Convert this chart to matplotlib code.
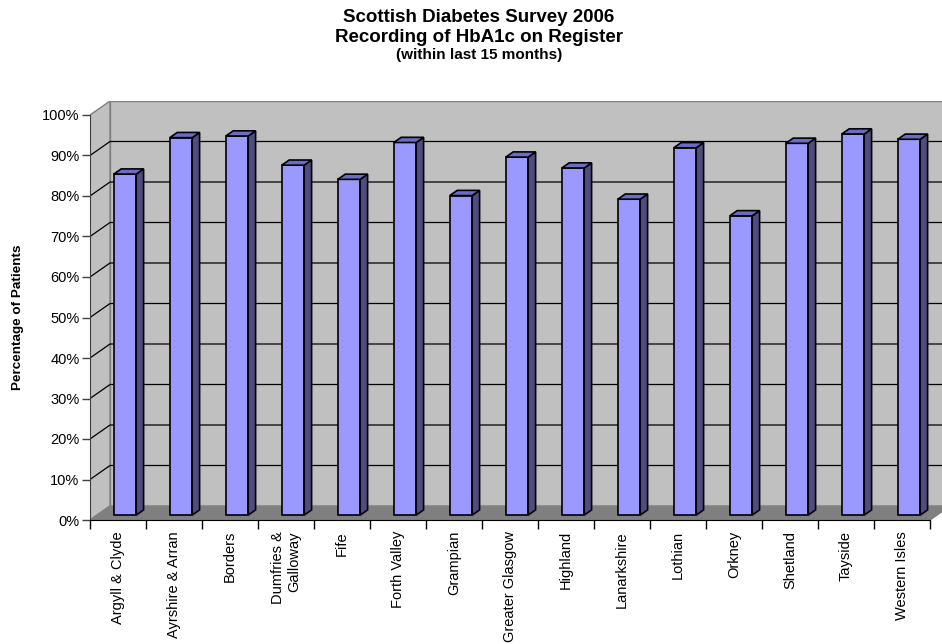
import matplotlib
matplotlib.use("Agg")
import matplotlib.pyplot as plt
from matplotlib.patches import Polygon
import numpy as np

plt.rcParams['font.family'] = ['Liberation Sans', 'DejaVu Sans']

# ---- data ----
boards = ["Argyll & Clyde", "Ayrshire & Arran", "Borders", "Dumfries &\nGalloway",
          "Fife", "Forth Valley", "Grampian", "Greater Glasgow", "Highland",
          "Lanarkshire", "Lothian", "Orkney", "Shetland", "Tayside", "Western Isles"]
pct_recorded = [84.2, 93.2, 93.6, 86.4, 82.9, 92.0, 78.9, 88.4, 85.7,
                78.0, 90.7, 73.9, 91.8, 94.1, 92.8]
y_ticks = [0, 10, 20, 30, 40, 50, 60, 70, 80, 90, 100]
y_tick_labels = [f"{v}%" for v in y_ticks]

title1 = "Scottish Diabetes Survey 2006"
title2 = "Recording of HbA1c on Register"
title3 = "(within last 15 months)"
ylabel = "Percentage of Patients"

# ---- styling / 3D projection parameters ----
W, H = 942, 644
depth_dx = 20 / 56.0        # category units
depth_dy = 14 / 4.05        # percent units
bar_w = 0.40
bar_f0 = 0.35               # depth fraction where bar front sits
bar_depth = 0.37            # bar depth fraction
front_col = "#9999FF"
side_col = "#4D4D80"
top_col = "#6B6BC8"
wall_col = "#C0C0C0"
floor_col = "#808080"
edge_gray = "#808080"

fig = plt.figure(figsize=(W / 100, H / 100), dpi=100)
ax = fig.add_axes([90 / W, (H - 520) / H, (W - 90) / W, 419 / H])
n = len(boards)
x0 = -0.5
x1 = n - 0.5
ax.set_xlim(x0, x0 + (W - 90) / 56.0)
ax.set_ylim(0, 100 + depth_dy)
ax.patch.set_visible(False)

# walls
xr = ax.get_xlim()[1] + 1
back = Polygon([(x0 + depth_dx, depth_dy), (xr, depth_dy), (xr, 100 + depth_dy),
                (x0 + depth_dx, 100 + depth_dy)], closed=True,
               facecolor=wall_col, edgecolor=edge_gray, lw=1.0, zorder=0.5)
ax.add_patch(back)
left = Polygon([(x0, 0), (x0 + depth_dx, depth_dy), (x0 + depth_dx, 100 + depth_dy),
                (x0, 100)], closed=True, facecolor=wall_col, edgecolor=edge_gray,
               lw=1.0, zorder=0.5)
ax.add_patch(left)

# gridlines
for v in y_ticks[1:-1]:
    ax.plot([x0, x0 + depth_dx, xr], [v, v + depth_dy, v + depth_dy],
            color="black", lw=0.9, zorder=0.6, solid_capstyle="butt")

# floor
floor = Polygon([(x0, 0), (x1, 0), (x1 + depth_dx, depth_dy), (x0 + depth_dx, depth_dy)],
                closed=True, facecolor=floor_col, edgecolor=edge_gray, lw=1.0, zorder=0.7)
ax.add_patch(floor)

# bars
ox = bar_f0 * depth_dx
oy = bar_f0 * depth_dy
ddx = bar_depth * depth_dx
ddy = bar_depth * depth_dy
xpos = np.arange(n)
bars = ax.bar(xpos + ox, pct_recorded, bottom=oy, width=bar_w, color=front_col,
              edgecolor="black", linewidth=1.2, zorder=2)
for b in bars:
    bx = b.get_x()
    bw = b.get_width()
    by = b.get_y()
    top = by + b.get_height()
    side = Polygon([(bx + bw, by), (bx + bw + ddx, by + ddy), (bx + bw + ddx, top + ddy),
                    (bx + bw, top)], closed=True, facecolor=side_col, edgecolor="black",
                   lw=1.2, zorder=2, joinstyle="miter")
    ax.add_patch(side)
    tp = Polygon([(bx, top), (bx + bw, top), (bx + bw + ddx, top + ddy), (bx + ddx, top + ddy)],
                 closed=True, facecolor=top_col, edgecolor="black", lw=1.2, zorder=2,
                 joinstyle="miter")
    ax.add_patch(tp)

# spines
for s in ["top", "right"]:
    ax.spines[s].set_visible(False)
ax.spines["left"].set_bounds(0, 100)
ax.spines["bottom"].set_bounds(x0, x1)
ax.spines["left"].set_color("#404040")
ax.spines["bottom"].set_color("black")
ax.spines["left"].set_zorder(3)
ax.spines["bottom"].set_zorder(3)

ax.set_yticks(y_ticks)
ax.set_yticklabels(y_tick_labels)
ax.tick_params(axis="y", length=6, width=1, pad=1.5, labelsize=10.5, color="#404040")

ax.set_xticks(xpos)
ax.set_xticklabels(boards, rotation=90, ha="center", va="top", multialignment="right")
ax.set_xticks(np.arange(n + 1) - 0.5, minor=True)
ax.tick_params(axis="x", which="major", length=0, pad=8, labelsize=10.5)
ax.tick_params(axis="x", which="minor", length=6.5, width=1, color="black")

# texts
cx = 479 / W
fig.text(cx, 1 - 17 / H, title1, ha="center", va="center", fontsize=13.5, fontweight="bold")
fig.text(cx, 1 - 37 / H, title2, ha="center", va="center", fontsize=13.5, fontweight="bold")
fig.text(cx, 1 - 55.5 / H, title3, ha="center", va="center", fontsize=11, fontweight="bold")
fig.text(18 / W, 1 - 317 / H, ylabel, ha="center", va="center", rotation=90,
         fontsize=9.7, fontweight="bold")

fig.savefig("out.png", dpi=100)
